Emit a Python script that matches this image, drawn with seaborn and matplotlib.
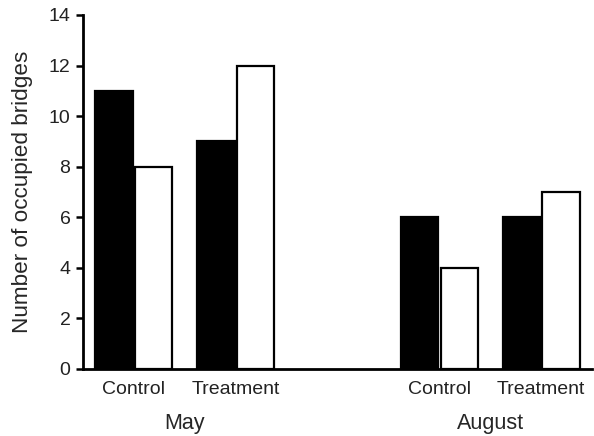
import matplotlib
matplotlib.use("Agg")
import matplotlib.pyplot as plt
import pandas as pd
import seaborn as sns

# Occupied bridges per month and group
months = ["May", "May", "August", "August"]
groups = ["Control", "Treatment", "Control", "Treatment"]
series_dark = [11, 9, 6, 6]
series_light = [8, 12, 4, 7]
positions = [0, 1, 3, 4]
y_ticks = [0, 2, 4, 6, 8, 10, 12, 14]

df = pd.DataFrame({
    "pos": positions * 2,
    "group": groups * 2,
    "month": months * 2,
    "series": ["dark"] * 4 + ["light"] * 4,
    "value": series_dark + series_light,
})

sns.set_theme(style="white")
plt.rcParams["font.family"] = ["Liberation Sans", "DejaVu Sans"]

fig = plt.figure(figsize=(5.94, 4.36), dpi=100)
ax = fig.add_axes([0.1397, 0.1537, 0.857, 0.8119])

sns.barplot(
    data=df, x="pos", y="value", hue="series", native_scale=True,
    palette={"dark": "black", "light": "white"},
    edgecolor="black", linewidth=1.6, width=0.78, gap=0.06,
    legend=False, ax=ax, errorbar=None,
)

ax.set_xlim(-0.5, 4.5)
ax.set_ylim(0, 14)
ax.set_yticks(y_ticks)
ax.set_xticks(positions)
ax.set_xticklabels(groups)
ax.tick_params(axis="x", length=0, pad=9, labelsize=14, colors="#222222")
ax.tick_params(axis="y", length=5, width=1.8, direction="out", left=True,
               labelsize=14, pad=4, colors="black")
for lbl in ax.get_yticklabels():
    lbl.set_color("#222222")
ax.set_xlabel("")
ax.set_ylabel("Number of occupied bridges", fontsize=16.2)
ax.yaxis.set_label_coords(-0.099, 0.5)

sns.despine(ax=ax)
for side in ("left", "bottom"):
    ax.spines[side].set_linewidth(2)
    ax.spines[side].set_color("black")

# Month labels beneath each pair of groups
for month, xs in (("May", (0, 1)), ("August", (3, 4))):
    ax.text(sum(xs) / 2, -0.153, month, transform=ax.get_xaxis_transform(),
            ha="center", va="center", fontsize=15.5)

fig.savefig("out.png", dpi=100)
